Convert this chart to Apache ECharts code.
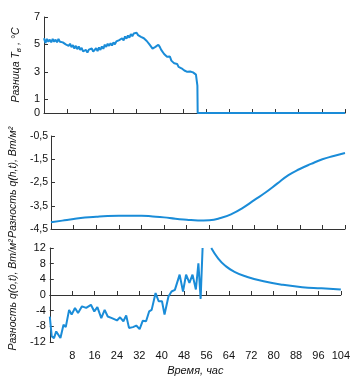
<!DOCTYPE html>
<html>
<head>
<meta charset="utf-8">
<script src="https://cdn.jsdelivr.net/npm/echarts@6.0.0/dist/echarts.min.js"></script>
<style>
  html, body { margin: 0; padding: 0; background: #fff; }
  #chart { width: 353px; height: 384px; }
</style>
</head>
<body>
<div id="chart"></div>
<script>
// x axis, hours
const hourTicks = [0, 8, 16, 24, 32, 40, 48, 56, 64, 72, 80, 88, 96, 104]

// top panel: temperature difference
const tempHours = [
  0, 0.5, 1, 1.5, 2, 2.5, 3, 3.5, 4, 4.5, 5, 5.5, 6, 6.5, 7, 7.5, 8, 8.5, 9, 9.5,
  10, 10.5, 11, 11.5, 12, 12.5, 13, 13.5, 14, 14.5, 15, 15.5, 16, 16.5, 17, 17.5, 18, 18.5, 19, 19.5,
  20, 20.5, 21, 21.5, 22, 22.5, 23, 23.5, 24, 24.5, 25, 25.5, 26, 26.5, 27, 27.5, 28, 28.5, 29, 29.5,
  30, 30.5, 31, 31.5, 32, 32.5, 33, 33.5, 34, 34.5, 35, 35.5, 36, 36.5, 37, 37.5, 38, 38.5, 39, 39.5,
  40, 40.5, 41, 41.5, 42, 42.5, 43, 43.5, 44, 44.5, 45, 45.5, 46, 46.5, 47, 47.5, 48, 48.5, 49, 49.5,
  50, 50.5, 51, 51.5, 52, 52.5, 52.8, 53, 53.1, 104
]
const tempVals = [
  5.45, 5.1, 5.4, 5.2, 5.35, 5.15, 5.4, 5.2, 5.35, 5.15, 5.4, 5.2, 5.3, 5.15, 5.2, 5.0, 5.1, 4.9, 5.05, 4.8,
  4.95, 4.7, 4.9, 4.65, 4.85, 4.6, 4.75, 4.5, 4.45, 4.6, 4.4, 4.62, 4.5, 4.7, 4.48, 4.62, 4.72, 4.52, 4.78, 4.6,
  4.85, 4.68, 4.98, 4.82, 5.05, 4.9, 5.08, 4.92, 5.15, 5.0, 5.22, 5.08, 5.32, 5.18, 5.45, 5.3, 5.58, 5.42, 5.65, 5.5,
  5.75, 5.6, 5.8, 5.66, 5.85, 5.68, 5.74, 5.55, 5.66, 5.45, 5.48, 5.25, 5.22, 4.98, 4.88, 4.7, 4.72, 4.82, 4.88, 4.98,
  4.82, 4.6, 4.58, 4.3, 4.42, 4.1, 4.08, 4.12, 3.82, 3.92, 3.62, 3.48, 3.58, 3.36, 3.46, 3.26, 3.36, 3.1, 3.2, 3.0,
  2.96, 3.02, 2.88, 2.96, 2.84, 2.8, 2.92, 2.0, 0, 0
]

// middle panel: q(h,t)
const qhHours = [0, 4, 8, 12, 16, 20, 24, 28, 32, 36, 40, 44, 48, 52, 56, 60, 64, 68, 72, 76, 80, 84, 88, 92, 96, 100, 104]
const qhVals = [
  -4.21, -4.14, -4.07, -4.01, -3.97, -3.94, -3.93, -3.93, -3.93, -3.96, -4.0, -4.06, -4.1, -4.13,
  -4.12, -4.03, -3.85, -3.58, -3.25, -2.92, -2.55, -2.18, -1.92, -1.7, -1.5, -1.36, -1.23
]

// bottom panel: q(o,t), measured part and decay part
const qoHours = [
  0, 0.7, 1.5, 2.3, 3.0, 3.8, 4.9, 5.7, 6.9, 7.8, 9.0, 10.1, 11.5, 13.0, 14.7, 15.9, 17.0, 18.4, 19.6, 20.7,
  22.2, 24.0, 25.1, 26.3, 27.3, 28.3, 29.7, 30.9, 32.1, 33.2, 34.4, 35.5, 36.4, 37.8, 38.9, 40.1, 41.0, 42.4,
  43.5, 44.7, 46.4, 47.6, 48.7, 49.9, 51.0, 52.2, 53.1, 53.9, 54.6
]
const qoVals = [
  -5.5, -10.6, -11, -9.3, -9.7, -11, -7.6, -8.2, -3.8, -5.0, -3.3, -4.6, -2.9, -3.3, -2.5, -4.2, -3.1, -5.9, -3.8, -5.5,
  -5.9, -6.5, -5.7, -6.7, -5.2, -8.4, -8.2, -7.8, -8.7, -6.6, -6.7, -4.2, -3.8, 0.5, -1.6, -1.6, -5.0, -0.4,
  0.9, 1.3, 5.2, 0.9, 5.2, 3.1, 5.2, 1.4, 8.1, -1.0, 12
]
const qoTailHours = [57.7, 60.2, 62.5, 66, 70.6, 76.4, 83.3, 90.2, 97.1, 104]
const qoTailVals = [12, 9.3, 7.6, 5.9, 4.6, 3.5, 2.6, 2.0, 1.7, 1.4]

const tempTicks = [1, 3, 5, 7]
const tempLabels = [0, 1, 3, 5, 7]
const qhTicks = [-4.5, -3.5, -2.5, -1.5, -0.5]

const FONT = "'Liberation Sans Narrow', 'Arial Narrow', 'Liberation Sans', sans-serif"
const LINE = '#1a8cd8'
const AXIS = '#333'

const pairs = (xs, ys) => xs.map((x, i) => [x, ys[i]])

const nameRich = {
  n: { fontSize: 10.5, fontStyle: 'italic', fontFamily: FONT, color: '#111' },
  s: { fontSize: 8, fontStyle: 'italic', fontFamily: FONT, color: '#111', padding: [6, 0, 0, 0] }
}

function xAxis(gridIndex, showLabels) {
  return {
    type: 'value',
    gridIndex: gridIndex,
    min: 0,
    max: 104,
    interval: 8,
    axisLine: { lineStyle: { color: AXIS, width: 1 } },
    axisTick: { inside: true, length: 4, lineStyle: { color: AXIS } },
    axisLabel: {
      show: showLabels,
      showMinLabel: false,
      fontFamily: FONT,
      fontSize: 11,
      color: '#111',
      margin: 8
    },
    splitLine: { show: false },
    name: showLabels ? 'Время, час' : '',
    nameLocation: 'middle',
    nameGap: 23,
    nameTextStyle: { fontFamily: FONT, fontSize: 11, fontStyle: 'italic', color: '#111' }
  }
}

function yAxisBase(gridIndex, name) {
  return {
    type: 'value',
    gridIndex: gridIndex,
    axisLine: { show: true, lineStyle: { color: AXIS, width: 1 } },
    axisTick: { show: true, inside: true, length: 4, lineStyle: { color: AXIS } },
    axisLabel: { fontFamily: FONT, fontSize: 11, color: '#111', margin: 4 },
    splitLine: { show: false },
    name: name,
    nameLocation: 'middle',
    nameRotate: 90,
    nameGap: 20,
    nameTextStyle: { rich: nameRich }
  }
}

const chart = echarts.init(document.getElementById('chart'), null, { renderer: 'canvas' })

const yTop = yAxisBase(0, '{n|Разница T}{s|в}{n| , °C}')
yTop.min = 0
yTop.max = 7
yTop.interval = 1
yTop.axisLabel.customValues = tempLabels
yTop.axisTick.customValues = tempTicks

const yMid = yAxisBase(1, '{n|Разность q(h,t), Вт/м²}')
yMid.min = -4.5
yMid.max = -0.5
yMid.axisLabel.customValues = qhTicks
yMid.axisTick.customValues = qhTicks
yMid.axisLabel.formatter = v => String(v).replace('.', ',')
yMid.axisLabel.fontSize = 10.5
yMid.axisLabel.margin = 3
yMid.nameGap = 22

const yBot = yAxisBase(2, '{n|Разность q(o,t), Вт/м²}')
yBot.min = -12
yBot.max = 12
yBot.interval = 4

const lineSeries = (axisIndex, data, smooth) => ({
  type: 'line',
  xAxisIndex: axisIndex,
  yAxisIndex: axisIndex,
  data: data,
  symbol: 'none',
  smooth: smooth,
  lineStyle: { color: LINE, width: 2 }
})

chart.setOption({
  animation: false,
  backgroundColor: '#fff',
  grid: [
    { left: 44, right: 8, top: 17, height: 96 },
    { left: 44, right: 8, top: 136, height: 93 },
    { left: 44, right: 8, top: 248, height: 94 }
  ],
  xAxis: [xAxis(0, false), xAxis(1, false), xAxis(2, true)],
  yAxis: [yTop, yMid, yBot],
  series: [
    lineSeries(0, pairs(tempHours, tempVals), false),
    lineSeries(1, pairs(qhHours, qhVals), true),
    lineSeries(2, pairs(qoHours, qoVals), false),
    lineSeries(2, pairs(qoTailHours, qoTailVals), true)
  ]
})
</script>
</body>
</html>
